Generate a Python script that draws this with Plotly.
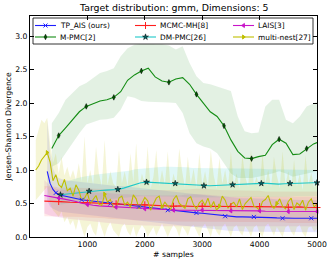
import plotly.graph_objects as go

# ------------------------------------------------------------------ data
title_text = "Target distribution: gmm, Dimensions: 5"
x_label = "# samples"
y_label = "Jensen-Shannon Divergence"
x_tick_vals = [1000, 2000, 3000, 4000, 5000]
x_tick_text = ["1000", "2000", "3000", "4000", "5000"]
y_tick_vals = [0.0, 0.5, 1.0, 1.5, 2.0, 2.5, 3.0]
y_tick_text = ["0.0", "0.5", "1.0", "1.5", "2.0", "2.5", "3.0"]

# common sample grid for TP_AIS / MCMC-MH / LAIS
samples = [250, 300, 350, 400, 450, 500, 600, 700, 800, 900,
           1000, 1100, 1200, 1300, 1400, 1500, 1600, 1700, 1800, 1900,
           2000, 2100, 2200, 2300, 2400, 2500, 2600, 2700, 2800, 2900,
           3000, 3100, 3200, 3300, 3400, 3500, 3600, 3700, 3800, 3900,
           4000, 4100, 4200, 4300, 4400, 4500, 4600, 4700, 4800, 4900,
           5000]

# TP_AIS starts at 300 samples
tp_ais_samples = samples[1:]
tp_ais = [0.98, 0.80, 0.71, 0.66, 0.63, 0.61, 0.59, 0.57, 0.555,
          0.545, 0.535, 0.525, 0.51, 0.50, 0.49, 0.485, 0.475, 0.465, 0.455,
          0.445, 0.44, 0.425, 0.41, 0.40, 0.39, 0.385, 0.375, 0.37, 0.36,
          0.355, 0.345, 0.33, 0.32, 0.31, 0.30, 0.30, 0.30, 0.30, 0.30,
          0.30, 0.295, 0.29, 0.285, 0.28, 0.28, 0.28, 0.28, 0.28, 0.28,
          0.28]
tp_ais_hi = [1.75, 1.25, 1.02, 0.93, 0.88, 0.85, 0.84, 0.83, 0.82,
             0.80, 0.80, 0.79, 0.78, 0.77, 0.76, 0.76, 0.75, 0.74, 0.73,
             0.72, 0.72, 0.71, 0.70, 0.69, 0.68, 0.67, 0.66, 0.65, 0.64,
             0.63, 0.62, 0.61, 0.60, 0.60, 0.59, 0.59, 0.58, 0.58, 0.58,
             0.57, 0.57, 0.57, 0.56, 0.56, 0.56, 0.55, 0.55, 0.55, 0.55,
             0.55]
tp_ais_lo = [0.55, 0.45, 0.42, 0.40, 0.38, 0.37, 0.36, 0.35, 0.34,
             0.33, 0.32, 0.31, 0.30, 0.29, 0.28, 0.27, 0.26, 0.25, 0.24,
             0.23, 0.22, 0.21, 0.20, 0.19, 0.18, 0.17, 0.16, 0.15, 0.14,
             0.13, 0.12, 0.11, 0.10, 0.10, 0.09, 0.09, 0.08, 0.08, 0.08,
             0.08, 0.07, 0.07, 0.07, 0.07, 0.07, 0.07, 0.07, 0.07, 0.07,
             0.07]

mcmc_mh = [0.535, 0.535, 0.535, 0.53, 0.53, 0.53, 0.525, 0.52, 0.52, 0.515,
           0.51, 0.51, 0.505, 0.50, 0.50, 0.495, 0.49, 0.49, 0.485, 0.48,
           0.48, 0.475, 0.47, 0.47, 0.465, 0.46, 0.465, 0.46, 0.46, 0.455,
           0.46, 0.46, 0.455, 0.45, 0.455, 0.455, 0.45, 0.45, 0.45, 0.455,
           0.455, 0.45, 0.45, 0.45, 0.45, 0.445, 0.45, 0.45, 0.445, 0.44,
           0.44]
mcmc_mh_hi = [0.76, 0.76, 0.75, 0.75, 0.75, 0.74, 0.74, 0.74, 0.73, 0.73,
              0.73, 0.72, 0.72, 0.72, 0.71, 0.71, 0.71, 0.70, 0.70, 0.70,
              0.70, 0.70, 0.69, 0.69, 0.69, 0.70, 0.70, 0.71, 0.72, 0.72,
              0.72, 0.72, 0.71, 0.70, 0.70, 0.70, 0.69, 0.69, 0.69, 0.69,
              0.69, 0.68, 0.68, 0.68, 0.68, 0.68, 0.68, 0.68, 0.68, 0.68,
              0.68]
mcmc_mh_lo = [0.31, 0.31, 0.31, 0.31, 0.31, 0.31, 0.30, 0.30, 0.30, 0.30,
              0.29, 0.29, 0.28, 0.28, 0.27, 0.27, 0.26, 0.26, 0.25, 0.25,
              0.25, 0.24, 0.24, 0.24, 0.23, 0.23, 0.23, 0.23, 0.23, 0.23,
              0.23, 0.23, 0.22, 0.22, 0.22, 0.22, 0.22, 0.22, 0.22, 0.22,
              0.22, 0.22, 0.22, 0.22, 0.22, 0.21, 0.21, 0.21, 0.21, 0.21,
              0.21]

lais = [0.62, 0.61, 0.60, 0.595, 0.59, 0.58, 0.565, 0.55, 0.53, 0.505,
        0.485, 0.475, 0.465, 0.46, 0.45, 0.445, 0.44, 0.435, 0.43, 0.425,
        0.42, 0.415, 0.41, 0.41, 0.405, 0.40, 0.40, 0.40, 0.40, 0.40,
        0.40, 0.40, 0.395, 0.395, 0.395, 0.39, 0.39, 0.39, 0.39, 0.39,
        0.39, 0.385, 0.385, 0.385, 0.385, 0.38, 0.38, 0.38, 0.38, 0.38,
        0.38]
lais_hi = [0.85, 0.80, 0.76, 0.74, 0.72, 0.71, 0.70, 0.70, 0.69, 0.68,
           0.67, 0.67, 0.66, 0.66, 0.65, 0.65, 0.64, 0.64, 0.63, 0.63,
           0.62, 0.62, 0.62, 0.61, 0.61, 0.61, 0.62, 0.63, 0.64, 0.64,
           0.64, 0.63, 0.62, 0.61, 0.60, 0.60, 0.60, 0.60, 0.60, 0.60,
           0.60, 0.60, 0.60, 0.60, 0.60, 0.60, 0.60, 0.60, 0.60, 0.60,
           0.60]
lais_lo = [0.35, 0.33, 0.32, 0.31, 0.30, 0.29, 0.28, 0.27, 0.26, 0.25,
           0.24, 0.23, 0.22, 0.21, 0.20, 0.19, 0.19, 0.18, 0.18, 0.17,
           0.17, 0.17, 0.16, 0.16, 0.16, 0.16, 0.16, 0.16, 0.16, 0.16,
           0.16, 0.16, 0.16, 0.16, 0.16, 0.16, 0.16, 0.16, 0.16, 0.16,
           0.16, 0.16, 0.16, 0.16, 0.16, 0.16, 0.16, 0.16, 0.16, 0.16,
           0.16]

# M-PMC
mpmc_samples = [380, 500, 620, 740, 860, 980, 1100, 1220, 1340, 1460,
                1580, 1700, 1820, 1940, 2060, 2180, 2300, 2420, 2540, 2660,
                2780, 2900, 3020, 3140, 3260, 3380, 3500, 3620, 3740, 3860,
                3980, 4100, 4220, 4340, 4460, 4580, 4700, 4820, 4940, 5000]
mpmc = [1.32, 1.515, 1.63, 1.75, 1.87, 1.95, 1.99, 2.03, 2.05, 2.085,
        2.17, 2.34, 2.42, 2.48, 2.52, 2.39, 2.33, 2.31, 2.36, 2.38,
        2.28, 2.13, 2.00, 1.87, 1.80, 1.66, 1.45, 1.28, 1.18, 1.17,
        1.20, 1.22, 1.38, 1.46, 1.40, 1.23, 1.24, 1.32, 1.39, 1.41]
mpmc_hi = [1.70, 1.85, 2.05, 2.15, 2.25, 2.30, 2.38, 2.45, 2.48, 2.52,
           2.70, 2.82, 2.87, 2.88, 2.90, 2.88, 2.88, 2.86, 2.80, 2.85,
           2.60, 2.40, 2.30, 2.28, 2.25, 2.22, 2.18, 1.80, 1.58, 1.55,
           1.56, 1.95, 2.05, 2.05, 1.75, 1.70, 1.80, 1.95, 2.00, 2.02]
mpmc_lo = [1.05, 1.10, 1.25, 1.40, 1.55, 1.68, 1.72, 1.75, 1.76, 1.78,
           1.90, 2.10, 2.08, 2.03, 2.02, 2.02, 2.01, 2.01, 2.00, 1.85,
           1.55, 1.40, 1.35, 1.32, 1.25, 1.10, 0.95, 0.88, 0.88, 0.88,
           0.90, 0.92, 0.95, 0.98, 0.95, 0.90, 0.92, 0.95, 0.97, 0.98]

# DM-PMC
dmpmc_samples = [530, 630, 730, 830, 930, 1030, 1130, 1230, 1330, 1430,
                 1530, 1630, 1730, 1830, 1930, 2030, 2130, 2230, 2330, 2430,
                 2530, 2630, 2730, 2830, 2930, 3030, 3130, 3230, 3330, 3430,
                 3530, 3630, 3730, 3830, 3930, 4030, 4130, 4230, 4330, 4430,
                 4530, 4630, 4730, 4830, 4930, 5000]
dmpmc = [0.63, 0.64, 0.65, 0.66, 0.67, 0.685, 0.69, 0.695, 0.70, 0.705,
         0.71, 0.73, 0.76, 0.79, 0.81, 0.82, 0.815, 0.81, 0.80, 0.80,
         0.80, 0.79, 0.78, 0.775, 0.77, 0.765, 0.765, 0.77, 0.775, 0.78,
         0.78, 0.78, 0.785, 0.79, 0.795, 0.80, 0.80, 0.79, 0.79, 0.795,
         0.80, 0.80, 0.805, 0.81, 0.81, 0.81]
dmpmc_hi = [0.80, 0.83, 0.86, 0.88, 0.90, 0.92, 0.93, 0.94, 0.95, 0.96,
            0.96, 0.97, 0.99, 1.01, 1.02, 1.03, 1.04, 1.05, 1.05, 1.05,
            1.05, 1.04, 1.04, 1.03, 1.03, 1.03, 1.02, 1.02, 1.02, 1.02,
            1.02, 1.02, 1.02, 1.02, 1.02, 1.02, 1.01, 1.01, 1.01, 1.01,
            1.00, 1.00, 1.00, 1.00, 1.00, 1.00]
dmpmc_lo = [0.48, 0.50, 0.52, 0.53, 0.54, 0.55, 0.55, 0.56, 0.56, 0.57,
            0.57, 0.58, 0.59, 0.60, 0.61, 0.61, 0.61, 0.61, 0.60, 0.60,
            0.60, 0.60, 0.59, 0.59, 0.59, 0.59, 0.59, 0.59, 0.59, 0.60,
            0.60, 0.60, 0.60, 0.60, 0.60, 0.60, 0.60, 0.60, 0.60, 0.60,
            0.60, 0.61, 0.61, 0.61, 0.61, 0.61]

# multi-nest (every 50 samples from 100 to 5000)
multinest_samples = list(range(100, 5001, 50))
multinest = [1.00, 1.06, 1.15, 1.21, 1.26, 1.12, 0.84, 0.93, 0.78, 0.74,
             0.86, 0.69, 0.73, 0.61, 0.78, 0.70, 0.55, 0.58, 0.66, 0.50,
             0.57, 0.62, 0.49, 0.47, 0.64, 0.52, 0.56, 0.45, 0.43, 0.58,
             0.61, 0.48, 0.52, 0.44, 0.63, 0.57, 0.42, 0.50, 0.59, 0.54,
             0.40, 0.49, 0.58, 0.61, 0.45, 0.52, 0.47, 0.41, 0.56, 0.62,
             0.50, 0.46, 0.43, 0.57, 0.60, 0.48, 0.42, 0.51, 0.55, 0.47,
             0.58, 0.44, 0.53, 0.40, 0.46, 0.61, 0.55, 0.43, 0.49, 0.52,
             0.45, 0.57, 0.41, 0.50, 0.55, 0.59, 0.46, 0.44, 0.40, 0.53,
             0.56, 0.62, 0.48, 0.43, 0.50, 0.57, 0.46, 0.42, 0.53, 0.58,
             0.41, 0.51, 0.47, 0.55, 0.40, 0.52, 0.57, 0.45, 0.49]
multinest_hi = [1.45, 1.60, 1.75, 1.70, 1.78, 1.40, 1.10, 1.25, 0.95, 1.20,
                0.92, 1.05, 0.88, 1.00, 0.85, 1.10, 0.82, 1.50, 0.80, 1.00,
                0.78, 1.35, 0.95, 0.76, 1.45, 0.78, 0.98, 0.80, 0.75, 1.30,
                0.80, 0.98, 0.76, 1.25, 0.82, 1.40, 0.74, 0.95, 0.80, 1.35,
                0.72, 0.90, 1.30, 0.76, 1.00, 0.78, 1.28, 0.72, 0.95, 0.78,
                1.32, 0.98, 0.74, 1.20, 0.80, 1.02, 0.73, 1.25, 0.78, 0.98,
                0.75, 1.30, 0.92, 0.72, 1.18, 0.80, 1.00, 0.74, 1.28, 0.78,
                0.95, 0.72, 1.22, 0.90, 0.75, 1.30, 0.78, 0.90, 0.72, 1.25,
                0.80, 1.00, 0.74, 1.20, 0.92, 0.73, 1.28, 0.78, 0.98, 0.72,
                1.15, 0.76, 0.95, 0.70, 1.22, 0.78, 0.96, 0.74, 0.85]
multinest_lo = [0.55, 0.60, 0.65, 0.70, 0.75, 0.50, 0.40, 0.35, 0.30, 0.38,
                0.22, 0.30, 0.18, 0.25, 0.10, 0.28, 0.12, 0.00, 0.15, 0.20,
                0.08, 0.02, 0.25, 0.12, 0.00, 0.14, 0.22, 0.10, 0.05, 0.00,
                0.15, 0.20, 0.08, 0.02, 0.16, 0.00, 0.10, 0.18, 0.12, 0.00,
                0.08, 0.15, 0.02, 0.12, 0.20, 0.10, 0.00, 0.10, 0.18, 0.12,
                0.00, 0.16, 0.10, 0.02, 0.15, 0.18, 0.08, 0.00, 0.14, 0.20,
                0.10, 0.00, 0.18, 0.08, 0.02, 0.15, 0.20, 0.10, 0.00, 0.14,
                0.18, 0.08, 0.02, 0.16, 0.10, 0.00, 0.14, 0.18, 0.06, 0.00,
                0.16, 0.20, 0.10, 0.02, 0.15, 0.08, 0.00, 0.14, 0.18, 0.08,
                0.02, 0.15, 0.18, 0.06, 0.00, 0.14, 0.16, 0.08, 0.12]

# ------------------------------------------------------------------ styling
W, H = 332, 263
L, R, T, B = 30, 317, 16, 237   # plot area in pixels
FONT = "DejaVu Sans"

series = [
    dict(name="TP_AIS (ours)", x=tp_ais_samples, y=tp_ais, hi=tp_ais_hi, lo=tp_ais_lo,
         color="rgb(30,30,255)", fill="rgba(0,0,255,0.10)", symbol="x-thin",
         mcolor="rgb(30,30,255)", msize=4, medge=None, step=5, first=3),
    dict(name="M-PMC[2]", x=mpmc_samples, y=mpmc, hi=mpmc_hi, lo=mpmc_lo,
         color="rgb(20,140,20)", fill="rgba(0,128,0,0.11)", symbol="diamond-tall",
         mcolor="rgb(0,90,0)", msize=4, medge="black", step=4, first=1),
    dict(name="MCMC-MH[8]", x=samples, y=mcmc_mh, hi=mcmc_mh_hi, lo=mcmc_mh_lo,
         color="rgb(255,30,30)", fill="rgba(255,0,0,0.09)", symbol="cross-thin",
         mcolor="rgb(255,30,30)", msize=5, medge=None, step=5, first=5),
    dict(name="DM-PMC[26]", x=dmpmc_samples, y=dmpmc, hi=dmpmc_hi, lo=dmpmc_lo,
         color="rgb(30,200,200)", fill="rgba(0,191,191,0.12)", symbol="star",
         mcolor="rgb(0,100,100)", msize=4.5, medge="black", step=5, first=0),
    dict(name="LAIS[3]", x=samples, y=lais, hi=lais_hi, lo=lais_lo,
         color="rgb(200,20,200)", fill="rgba(191,0,191,0.10)", symbol="triangle-left",
         mcolor="rgb(200,20,200)", msize=3.5, medge=None, step=5, first=5),
    dict(name="multi-nest[27]", x=multinest_samples, y=multinest, hi=multinest_hi, lo=multinest_lo,
         color="rgb(191,191,0)", fill="rgba(191,191,0,0.16)", symbol="triangle-right",
         mcolor="rgb(191,191,0)", msize=3.5, medge=None, step=20, first=4),
]

fig = go.Figure()

# error bands
for s in series:
    fig.add_trace(go.Scatter(x=s["x"], y=s["hi"], mode="lines", line=dict(width=0),
                             showlegend=False, hoverinfo="skip"))
    fig.add_trace(go.Scatter(x=s["x"], y=s["lo"], mode="lines", line=dict(width=0),
                             fill="tonexty", fillcolor=s["fill"], showlegend=False,
                             hoverinfo="skip"))

# mean lines
for s in series:
    fig.add_trace(go.Scatter(x=s["x"], y=s["y"], mode="lines", name=s["name"],
                             line=dict(color=s["color"], width=1.1), showlegend=False))


def marker_style(s):
    m = dict(symbol=s["symbol"], size=s["msize"], color=s["mcolor"])
    if s["medge"]:
        m["line"] = dict(color=s["medge"], width=0.5)
    else:
        m["line"] = dict(color=s["mcolor"], width=1.0)
    return m


# markers every few points
for s in series:
    idx = list(range(s["first"], len(s["x"]), s["step"]))
    fig.add_trace(go.Scatter(x=[s["x"][i] for i in idx], y=[s["y"][i] for i in idx],
                             mode="markers", marker=marker_style(s),
                             showlegend=False, hoverinfo="skip", cliponaxis=False))

# ------------------------------------------------------------------ custom legend (matplotlib-like)
leg_box = dict(x0=33, x1=313, y0=18, y1=44)
col_x = [35, 135, 233]
row_y = [25.5, 37]
leg_line_len = 21
legend_order = ["TP_AIS (ours)", "MCMC-MH[8]", "LAIS[3]", "M-PMC[2]", "DM-PMC[26]", "multi-nest[27]"]
by_name = {s["name"]: s for s in series}

fig.add_trace(go.Scatter(
    x=[leg_box["x0"], leg_box["x1"], leg_box["x1"], leg_box["x0"], leg_box["x0"]],
    y=[leg_box["y0"], leg_box["y0"], leg_box["y1"], leg_box["y1"], leg_box["y0"]],
    mode="lines", fill="toself", fillcolor="white", line=dict(color="black", width=0.8),
    xaxis="x2", yaxis="y2", showlegend=False, hoverinfo="skip"))

annotations = []
for k, name in enumerate(legend_order):
    s = by_name[name]
    cx = col_x[k % 3]
    ry = row_y[k // 3]
    fig.add_trace(go.Scatter(x=[cx, cx + leg_line_len], y=[ry, ry], mode="lines",
                             line=dict(color=s["color"], width=1.1),
                             xaxis="x2", yaxis="y2", showlegend=False, hoverinfo="skip"))
    fig.add_trace(go.Scatter(x=[cx + leg_line_len / 2], y=[ry], mode="markers",
                             marker=marker_style(s),
                             xaxis="x2", yaxis="y2", showlegend=False, hoverinfo="skip"))
    annotations.append(dict(x=cx + leg_line_len + 2, y=ry, xref="x2", yref="y2",
                            text=name, showarrow=False, xanchor="left", yanchor="middle",
                            font=dict(family=FONT, size=7.4, color="black")))


def px_x(px):
    return (px - L) / (R - L)


def px_y(py):
    return (B - py) / (B - T)


annotations += [
    dict(x=0.5, y=px_y(8), xref="paper", yref="paper", text=title_text, showarrow=False,
         xanchor="center", yanchor="middle", font=dict(family=FONT, size=9.4, color="black")),
    dict(x=0.5, y=px_y(254), xref="paper", yref="paper", text=x_label, showarrow=False,
         xanchor="center", yanchor="middle", font=dict(family=FONT, size=7.7, color="black")),
    dict(x=px_x(8), y=0.5, xref="paper", yref="paper", text=y_label, showarrow=False,
         textangle=-90, xanchor="center", yanchor="middle",
         font=dict(family=FONT, size=7.7, color="black")),
]

axis_common = dict(showline=True, linecolor="black", linewidth=1, mirror="ticks",
                   ticks="inside", ticklen=4, tickwidth=0.8, tickcolor="black",
                   showgrid=False, zeroline=False, automargin=False,
                   tickfont=dict(family=FONT, size=7.7, color="black"))

fig.update_layout(
    template="none",
    width=W, height=H, autosize=False,
    margin=dict(l=L, r=W - R, t=T, b=H - B, pad=0),
    paper_bgcolor="white", plot_bgcolor="white",
    showlegend=False,
    xaxis=dict(range=[0, 5000], tickvals=x_tick_vals, ticktext=x_tick_text, **axis_common),
    yaxis=dict(range=[0, 3.3], tickvals=y_tick_vals, ticktext=y_tick_text, **axis_common),
    xaxis2=dict(overlaying="x", range=[L, R], visible=False, anchor="y2", fixedrange=True),
    yaxis2=dict(overlaying="y", range=[B, T], visible=False, anchor="x2", fixedrange=True),
    annotations=annotations,
)

# remove the default 8px page margin so the figure sits at the window's top-left corner
fig.write_html("out.html", config={"displayModeBar": False},
               post_script="document.body.style.margin='0';document.body.style.overflow='hidden';")
